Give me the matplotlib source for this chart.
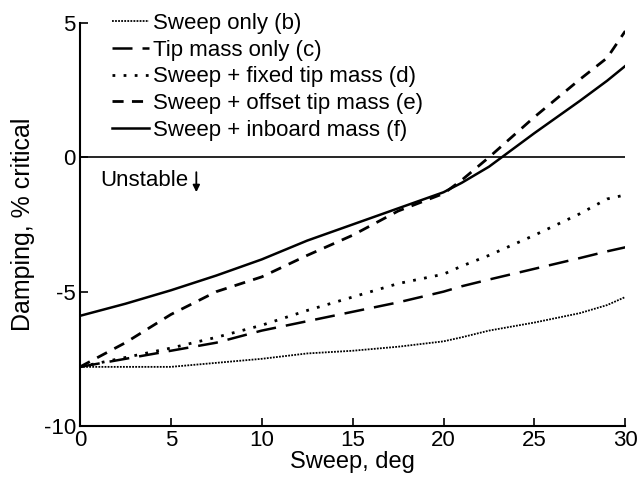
import matplotlib
matplotlib.use("Agg")
import matplotlib.pyplot as plt

plt.rcParams['font.family'] = ['Liberation Sans', 'DejaVu Sans']
plt.rcParams['axes.unicode_minus'] = False

# sweep angle, deg
sweep = [0, 2.5, 5, 7.5, 10, 12.5, 15, 17.5, 20, 21, 22.5, 25, 27.5, 29, 30]

# damping, % critical
sweep_only = [-7.8, -7.8, -7.8, -7.65, -7.5, -7.3, -7.2, -7.05, -6.85, -6.7, -6.45, -6.15, -5.8, -5.5, -5.2]
tip_only = [-7.8, -7.5, -7.2, -6.9, -6.45, -6.1, -5.75, -5.4, -5.0, -4.8, -4.55, -4.15, -3.75, -3.5, -3.35]
fixed_tip = [-7.8, -7.45, -7.1, -6.7, -6.25, -5.7, -5.2, -4.7, -4.35, -4.05, -3.65, -2.9, -2.1, -1.55, -1.4]
offset_tip = [-7.8, -6.9, -5.85, -5.0, -4.45, -3.65, -2.9, -2.0, -1.35, -0.85, 0.0, 1.5, 2.9, 3.7, 4.7]
inboard = [-5.9, -5.45, -4.95, -4.4, -3.8, -3.1, -2.5, -1.9, -1.3, -0.95, -0.35, 0.9, 2.1, 2.85, 3.4]

labels = ['Sweep only (b)', 'Tip mass only (c)', 'Sweep + fixed tip mass (d)',
          'Sweep + offset tip mass (e)', 'Sweep + inboard mass (f)']

fig = plt.figure(figsize=(6.4, 4.87), dpi=100)
ax = fig.add_axes([0.125, 0.1253, 0.852, 0.8275])

ax.axhline(0, color='black', lw=1.2)

ax.plot(sweep, sweep_only, color='black', lw=1.3, ls=(0, (1, 0.7)), label=labels[0])
ax.plot(sweep, tip_only, color='black', lw=1.8, ls=(0, (8, 4)), label=labels[1])
ax.plot(sweep, fixed_tip, color='black', lw=2.0, ls=(0, (1, 3)), label=labels[2])
ax.plot(sweep, offset_tip, color='black', lw=2.0, ls=(0, (4, 3)), label=labels[3])
ax.plot(sweep, inboard, color='black', lw=1.8, ls='-', label=labels[4])

ax.set_xlim(0, 30)
ax.set_ylim(-10, 5)
ax.set_xticks([0, 5, 10, 15, 20, 25, 30])
ax.set_yticks([-10, -5, 0, 5])
ax.spines['top'].set_visible(False)
ax.spines['right'].set_visible(False)
ax.spines['left'].set_linewidth(1.5)
ax.spines['bottom'].set_linewidth(1.5)
ax.tick_params(direction='in', length=6, width=1.2, labelsize=16)
ax.tick_params(axis='x', pad=3)
ax.tick_params(axis='y', pad=3)

ax.set_xlabel('Sweep, deg', fontsize=17, labelpad=0)
ax.set_ylabel('Damping, % critical', fontsize=18, labelpad=6)

ax.legend(loc='upper left', bbox_to_anchor=(0.058, 1.025), frameon=False,
          fontsize=16, handlelength=1.7, handletextpad=0.15, labelspacing=0.26,
          borderpad=0, borderaxespad=0)

ax.text(1.1, -0.85, 'Unstable', fontsize=16, va='center', ha='left')
ax.annotate('', xy=(6.4, -1.4), xytext=(6.4, -0.45),
            arrowprops=dict(arrowstyle='-|>', color='black', lw=1.3, mutation_scale=10))

fig.savefig('out.png', dpi=100)
